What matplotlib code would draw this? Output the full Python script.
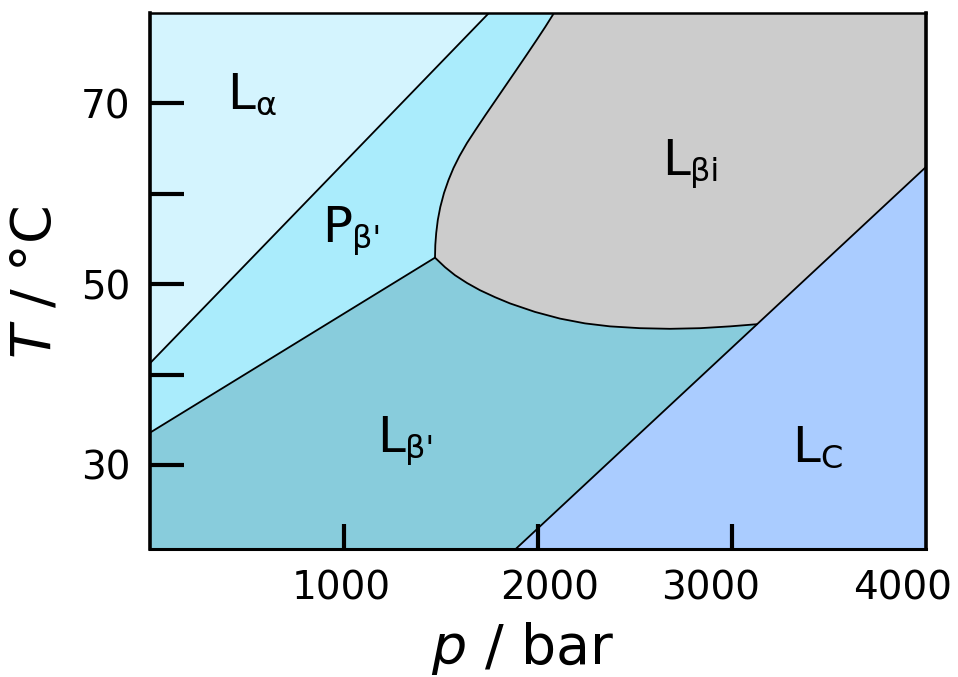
import matplotlib
matplotlib.use("Agg")
import matplotlib.pyplot as plt
import matplotlib.transforms as mtransforms

# ---------------- data (phase boundaries, p in bar, T in degC) ----------------
# L_alpha / P_beta'
bA_p = [0, 1747]
bA_T = [41.25, 80.0]
# P_beta' / L_beta'
bB_p = [0, 1469]
bB_T = [33.57, 52.93]
# P_beta' / L_beta_i (from triple point upwards)
bC_p = [1469.1, 1470.6, 1475.3, 1483.5, 1496.4, 1515.5, 1538.7, 1564.4, 1595.4,
        1634.0, 1677.8, 1729.4, 1782.5, 1835.1, 1888.1, 1940.7, 1992.8, 2037.1, 2082.5]
bC_T = [52.93, 54.33, 55.66, 57.10, 58.54, 60.09, 61.52, 62.85, 64.18,
        65.62, 67.06, 68.72, 70.38, 72.03, 73.69, 75.35, 77.01, 78.45, 80.0]
# L_beta' / L_beta_i (from triple point to the Lc line)
bD_p = [1469.1, 1520.6, 1572.2, 1634.0, 1701.0, 1778.4, 1855.7, 1984.5, 2113.4,
        2242.3, 2371.1, 2525.8, 2680.4, 2835.1, 2989.7, 3128.9]
bD_T = [52.93, 51.88, 50.99, 50.13, 49.33, 48.56, 47.87, 46.93, 46.19,
        45.66, 45.33, 45.13, 45.06, 45.13, 45.33, 45.57]
# L_c boundary
bE_p = [1885, 4000]
bE_T = [20.7, 62.97]

phase_names = ["L", "P", "L", "L", "L"]
phase_subs = ["\u03b1", "\u03b2'", "\u03b2'", "\u03b2i", "C"]
phase_p = [397, 886, 1170, 2639, 3309]
phase_T = [69.38, 54.66, 31.43, 62.08, 30.33]

x_ticks = [1000, 2000, 3000]
x_ticklabels = ["1000", "2000", "3000", "4000"]
x_label_pos = [985, 2062, 2892, 3881]
y_ticks = [30, 40, 50, 60, 70]
y_ticklabels = ["30", "", "50", "", "70"]

P_MIN, P_MAX = 0, 4000
T_MIN, T_MAX = 20.7, 80.0

# ---------------- colours ----------------
c_La = "#d4f4fe"
c_Pb = "#aaecfc"
c_Lb = "#88ccdc"
c_Lbi = "#cccccc"
c_Lc = "#aaccff"

plt.rcParams["font.family"] = ["DejaVu Sans"]
plt.rcParams["mathtext.fontset"] = "dejavusans"

W, H = 958, 677
fig = plt.figure(figsize=(W / 100, H / 100), dpi=100)
ax = fig.add_axes([150 / W, (H - 549) / H, 776 / W, 536 / H])
ax.set_xlim(P_MIN, P_MAX)
ax.set_ylim(T_MIN, T_MAX)

# ---------------- regions ----------------
# L_alpha
ax.fill([bA_p[0], P_MIN, bA_p[1]], [bA_T[0], T_MAX, bA_T[1]], color=c_La, lw=0)
# P_beta'
pp = [bB_p[0], bA_p[0], bA_p[1]] + bC_p[::-1]
tt = [bB_T[0], bA_T[0], bA_T[1]] + bC_T[::-1]
ax.fill(pp, tt, color=c_Pb, lw=0)
# L_beta'
pp = [P_MIN, bB_p[0]] + bB_p[1:] + bD_p[1:] + [bE_p[0]]
tt = [T_MIN, bB_T[0]] + bB_T[1:] + bD_T[1:] + [bE_T[0]]
ax.fill(pp, tt, color=c_Lb, lw=0)
# L_beta_i
pp = bC_p + [P_MAX, bE_p[1]] + bD_p[::-1]
tt = bC_T + [T_MAX, bE_T[1]] + bD_T[::-1]
ax.fill(pp, tt, color=c_Lbi, lw=0)
# L_c
ax.fill([bE_p[0], bE_p[1], P_MAX], [bE_T[0], bE_T[1], T_MIN], color=c_Lc, lw=0)

# ---------------- boundaries ----------------
for bp, bt in [(bA_p, bA_T), (bB_p, bB_T), (bC_p, bC_T), (bD_p, bD_T), (bE_p, bE_T)]:
    ax.plot(bp, bt, color="black", lw=1.3, solid_joinstyle="round", solid_capstyle="round")

# ---------------- phase labels ----------------
for name, sub, p, t in zip(phase_names, phase_subs, phase_p, phase_T):
    ax.text(p, t, name, fontsize=36, ha="left", va="baseline")
    adv = 30 if name == "P" else 28
    tr = mtransforms.offset_copy(ax.transData, fig=fig, x=adv, y=-6, units="dots")
    ax.text(p, t, sub, fontsize=23, ha="left", va="baseline", transform=tr)

# ---------------- axes styling ----------------
for side, lw in [("left", 2.6), ("bottom", 2.2), ("right", 2.6), ("top", 1.8)]:
    ax.spines[side].set_linewidth(lw)
    ax.spines[side].set_color("black")
    ax.spines[side].set_zorder(5)

ax.set_yticks(y_ticks)
ax.set_yticklabels(y_ticklabels)
ax.tick_params(axis="y", direction="in", length=24.5, width=3, pad=14, labelsize=28)
ax.set_xticks(x_ticks)
ax.set_xticklabels([])
ax.tick_params(axis="x", direction="in", length=18, width=3)

for lab, xp in zip(x_ticklabels, x_label_pos):
    ax.annotate(lab, xy=(xp, 0), xycoords=("data", "axes fraction"),
                xytext=(0, -15), textcoords="offset points",
                ha="center", va="top", fontsize=28)

fig.text(523 / W, (H - 664) / H, r"$p$ / bar", fontsize=40, ha="center", va="baseline")
fig.text(36 / W, (H - 282) / H, r"$T$ / °C", fontsize=40, ha="center", va="center", rotation=90)

fig.savefig("out.png", dpi=100)
